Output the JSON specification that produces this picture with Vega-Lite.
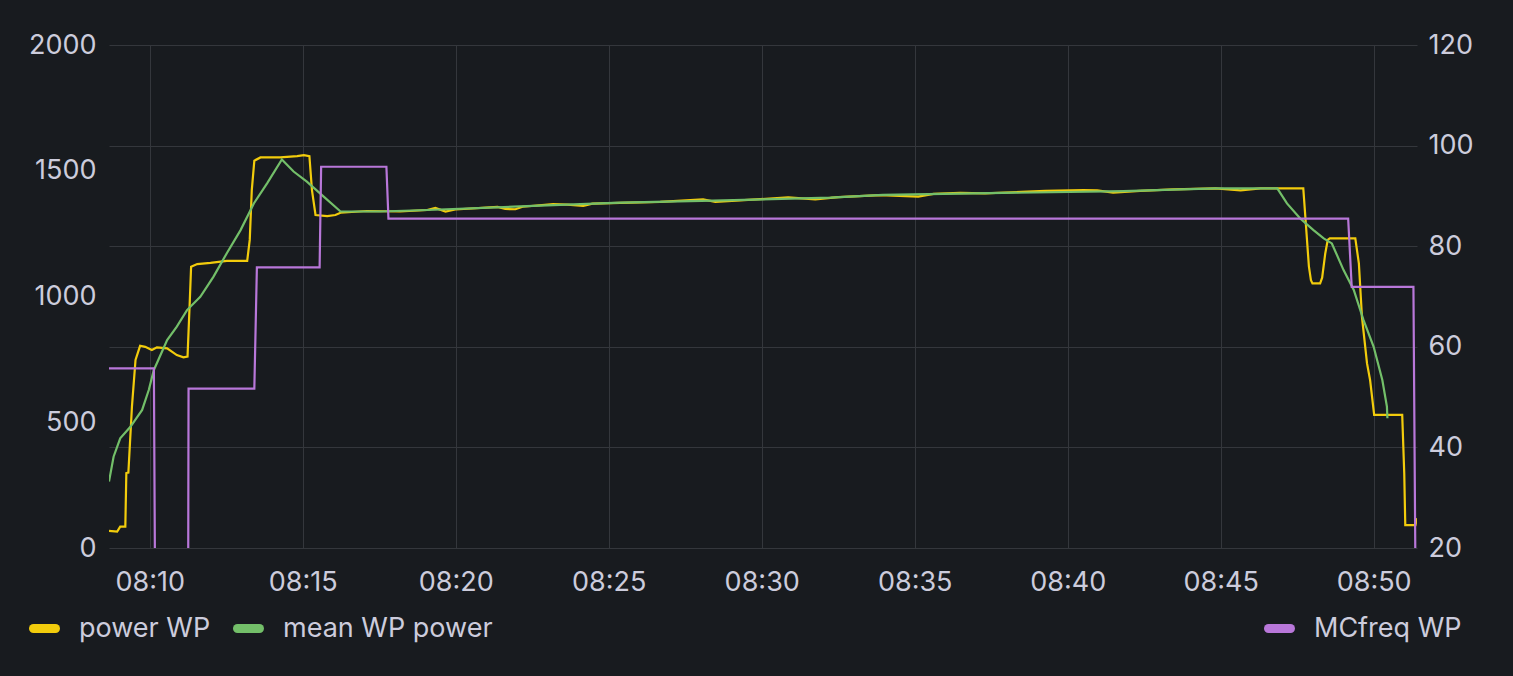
{
  "$schema": "https://vega.github.io/schema/vega-lite/v6.json",
  "autosize": {"type": "none"},
  "width": 1308,
  "height": 503,
  "padding": {"left": 109, "top": 45, "right": 96, "bottom": 128},
  "background": "#181b1f",
  "config": {
    "view": {"stroke": null},
    "font": "Inter",
    "axis": {
      "labelFont": "Inter",
      "labelFontSize": 27,
      "labelColor": "#ccccdc",
      "domain": false,
      "ticks": false,
      "tickSize": 0,
      "title": null,
      "gridColor": "#34373c",
      "gridWidth": 1
    },
    "legend": {
      "labelFont": "Inter",
      "labelFontSize": 27,
      "labelColor": "#ccccdc",
      "labelLimit": 0,
      "padding": 0,
      "title": null,
      "symbolType": "stroke",
      "symbolSize": 484,
      "symbolStrokeWidth": 9,
      "labelOffset": 19
    }
  },
  "datasets": {
    "power": [
      {"t": "2024-01-01T08:08:40Z", "v": 68},
      {"t": "2024-01-01T08:08:56Z", "v": 65},
      {"t": "2024-01-01T08:09:02Z", "v": 85},
      {"t": "2024-01-01T08:09:12Z", "v": 85},
      {"t": "2024-01-01T08:09:14Z", "v": 298},
      {"t": "2024-01-01T08:09:18Z", "v": 300},
      {"t": "2024-01-01T08:09:25Z", "v": 562},
      {"t": "2024-01-01T08:09:32Z", "v": 748},
      {"t": "2024-01-01T08:09:41Z", "v": 804},
      {"t": "2024-01-01T08:09:51Z", "v": 800},
      {"t": "2024-01-01T08:10:04Z", "v": 787},
      {"t": "2024-01-01T08:10:14Z", "v": 798},
      {"t": "2024-01-01T08:10:34Z", "v": 794},
      {"t": "2024-01-01T08:10:53Z", "v": 767},
      {"t": "2024-01-01T08:11:06Z", "v": 758},
      {"t": "2024-01-01T08:11:14Z", "v": 761},
      {"t": "2024-01-01T08:11:18Z", "v": 960},
      {"t": "2024-01-01T08:11:21Z", "v": 1118},
      {"t": "2024-01-01T08:11:33Z", "v": 1129},
      {"t": "2024-01-01T08:11:59Z", "v": 1134},
      {"t": "2024-01-01T08:12:31Z", "v": 1142},
      {"t": "2024-01-01T08:13:11Z", "v": 1142},
      {"t": "2024-01-01T08:13:16Z", "v": 1225},
      {"t": "2024-01-01T08:13:20Z", "v": 1423},
      {"t": "2024-01-01T08:13:25Z", "v": 1540},
      {"t": "2024-01-01T08:13:37Z", "v": 1553},
      {"t": "2024-01-01T08:14:16Z", "v": 1553},
      {"t": "2024-01-01T08:14:49Z", "v": 1558},
      {"t": "2024-01-01T08:15:02Z", "v": 1562},
      {"t": "2024-01-01T08:15:13Z", "v": 1558},
      {"t": "2024-01-01T08:15:18Z", "v": 1423},
      {"t": "2024-01-01T08:15:25Z", "v": 1324},
      {"t": "2024-01-01T08:15:48Z", "v": 1320},
      {"t": "2024-01-01T08:16:04Z", "v": 1324},
      {"t": "2024-01-01T08:16:14Z", "v": 1333},
      {"t": "2024-01-01T08:17:06Z", "v": 1340},
      {"t": "2024-01-01T08:18:11Z", "v": 1338},
      {"t": "2024-01-01T08:19:04Z", "v": 1344},
      {"t": "2024-01-01T08:19:20Z", "v": 1352},
      {"t": "2024-01-01T08:19:40Z", "v": 1338},
      {"t": "2024-01-01T08:19:59Z", "v": 1346},
      {"t": "2024-01-01T08:21:22Z", "v": 1356},
      {"t": "2024-01-01T08:21:37Z", "v": 1348},
      {"t": "2024-01-01T08:21:57Z", "v": 1347},
      {"t": "2024-01-01T08:22:11Z", "v": 1357},
      {"t": "2024-01-01T08:23:11Z", "v": 1367},
      {"t": "2024-01-01T08:23:39Z", "v": 1365},
      {"t": "2024-01-01T08:24:10Z", "v": 1360},
      {"t": "2024-01-01T08:24:28Z", "v": 1369},
      {"t": "2024-01-01T08:25:23Z", "v": 1372},
      {"t": "2024-01-01T08:26:41Z", "v": 1376},
      {"t": "2024-01-01T08:28:05Z", "v": 1386},
      {"t": "2024-01-01T08:28:29Z", "v": 1376},
      {"t": "2024-01-01T08:29:18Z", "v": 1382},
      {"t": "2024-01-01T08:30:52Z", "v": 1394},
      {"t": "2024-01-01T08:31:45Z", "v": 1386},
      {"t": "2024-01-01T08:32:30Z", "v": 1395},
      {"t": "2024-01-01T08:33:53Z", "v": 1403},
      {"t": "2024-01-01T08:35:07Z", "v": 1397},
      {"t": "2024-01-01T08:35:37Z", "v": 1408},
      {"t": "2024-01-01T08:36:29Z", "v": 1412},
      {"t": "2024-01-01T08:37:18Z", "v": 1410},
      {"t": "2024-01-01T08:39:16Z", "v": 1420},
      {"t": "2024-01-01T08:40:31Z", "v": 1423},
      {"t": "2024-01-01T08:40:58Z", "v": 1422},
      {"t": "2024-01-01T08:41:29Z", "v": 1413},
      {"t": "2024-01-01T08:42:22Z", "v": 1420},
      {"t": "2024-01-01T08:43:27Z", "v": 1426},
      {"t": "2024-01-01T08:44:50Z", "v": 1430},
      {"t": "2024-01-01T08:45:39Z", "v": 1422},
      {"t": "2024-01-01T08:46:18Z", "v": 1430},
      {"t": "2024-01-01T08:47:42Z", "v": 1430},
      {"t": "2024-01-01T08:47:46Z", "v": 1318},
      {"t": "2024-01-01T08:47:53Z", "v": 1120},
      {"t": "2024-01-01T08:47:57Z", "v": 1065},
      {"t": "2024-01-01T08:48:00Z", "v": 1052},
      {"t": "2024-01-01T08:48:15Z", "v": 1052},
      {"t": "2024-01-01T08:48:19Z", "v": 1075},
      {"t": "2024-01-01T08:48:25Z", "v": 1170},
      {"t": "2024-01-01T08:48:30Z", "v": 1225},
      {"t": "2024-01-01T08:48:34Z", "v": 1231},
      {"t": "2024-01-01T08:49:24Z", "v": 1231},
      {"t": "2024-01-01T08:49:31Z", "v": 1132},
      {"t": "2024-01-01T08:49:37Z", "v": 920},
      {"t": "2024-01-01T08:49:47Z", "v": 734},
      {"t": "2024-01-01T08:49:53Z", "v": 668},
      {"t": "2024-01-01T08:50:01Z", "v": 529},
      {"t": "2024-01-01T08:50:56Z", "v": 529},
      {"t": "2024-01-01T08:51:00Z", "v": 297},
      {"t": "2024-01-01T08:51:02Z", "v": 91},
      {"t": "2024-01-01T08:51:22Z", "v": 91},
      {"t": "2024-01-01T08:51:25Z", "v": 118}
    ],
    "mean": [
      {"t": "2024-01-01T08:08:40Z", "v": 264},
      {"t": "2024-01-01T08:08:49Z", "v": 363},
      {"t": "2024-01-01T08:09:02Z", "v": 436},
      {"t": "2024-01-01T08:09:22Z", "v": 482},
      {"t": "2024-01-01T08:09:45Z", "v": 549},
      {"t": "2024-01-01T08:09:58Z", "v": 628},
      {"t": "2024-01-01T08:10:08Z", "v": 708},
      {"t": "2024-01-01T08:10:34Z", "v": 827},
      {"t": "2024-01-01T08:10:53Z", "v": 880},
      {"t": "2024-01-01T08:11:13Z", "v": 946},
      {"t": "2024-01-01T08:11:39Z", "v": 999},
      {"t": "2024-01-01T08:12:05Z", "v": 1079},
      {"t": "2024-01-01T08:12:31Z", "v": 1172},
      {"t": "2024-01-01T08:12:58Z", "v": 1264},
      {"t": "2024-01-01T08:13:24Z", "v": 1370},
      {"t": "2024-01-01T08:13:50Z", "v": 1450},
      {"t": "2024-01-01T08:14:19Z", "v": 1545},
      {"t": "2024-01-01T08:14:42Z", "v": 1497},
      {"t": "2024-01-01T08:15:08Z", "v": 1457},
      {"t": "2024-01-01T08:15:41Z", "v": 1397},
      {"t": "2024-01-01T08:16:14Z", "v": 1338},
      {"t": "2024-01-01T08:17:32Z", "v": 1338},
      {"t": "2024-01-01T08:19:04Z", "v": 1344},
      {"t": "2024-01-01T08:21:53Z", "v": 1357},
      {"t": "2024-01-01T08:25:23Z", "v": 1373},
      {"t": "2024-01-01T08:28:25Z", "v": 1381},
      {"t": "2024-01-01T08:32:15Z", "v": 1393},
      {"t": "2024-01-01T08:33:58Z", "v": 1404},
      {"t": "2024-01-01T08:36:55Z", "v": 1410},
      {"t": "2024-01-01T08:41:49Z", "v": 1419},
      {"t": "2024-01-01T08:44:50Z", "v": 1430},
      {"t": "2024-01-01T08:46:51Z", "v": 1430},
      {"t": "2024-01-01T08:47:10Z", "v": 1370},
      {"t": "2024-01-01T08:47:36Z", "v": 1310},
      {"t": "2024-01-01T08:48:02Z", "v": 1264},
      {"t": "2024-01-01T08:48:22Z", "v": 1231},
      {"t": "2024-01-01T08:48:38Z", "v": 1211},
      {"t": "2024-01-01T08:49:01Z", "v": 1105},
      {"t": "2024-01-01T08:49:21Z", "v": 1026},
      {"t": "2024-01-01T08:49:40Z", "v": 907},
      {"t": "2024-01-01T08:50:00Z", "v": 800},
      {"t": "2024-01-01T08:50:17Z", "v": 668},
      {"t": "2024-01-01T08:50:26Z", "v": 562},
      {"t": "2024-01-01T08:50:27Z", "v": 516}
    ],
    "freq": [
      {"t": "2024-01-01T08:08:40Z", "v": 55.7},
      {"t": "2024-01-01T08:10:08Z", "v": 55.7},
      {"t": "2024-01-01T08:10:11Z", "v": 0},
      {"t": "2024-01-01T08:11:15Z", "v": 0},
      {"t": "2024-01-01T08:11:16Z", "v": 51.7},
      {"t": "2024-01-01T08:13:25Z", "v": 51.7},
      {"t": "2024-01-01T08:13:30Z", "v": 75.8},
      {"t": "2024-01-01T08:15:33Z", "v": 75.8},
      {"t": "2024-01-01T08:15:36Z", "v": 95.8},
      {"t": "2024-01-01T08:17:44Z", "v": 95.8},
      {"t": "2024-01-01T08:17:48Z", "v": 85.5},
      {"t": "2024-01-01T08:49:10Z", "v": 85.5},
      {"t": "2024-01-01T08:49:17Z", "v": 71.9},
      {"t": "2024-01-01T08:51:18Z", "v": 71.9},
      {"t": "2024-01-01T08:51:23Z", "v": 0}
    ]
  },
  "layer": [
    {
      "data": {"name": "power"},
      "mark": {"type": "line", "strokeWidth": 2.2, "clip": true},
      "encoding": {
        "x": {
          "field": "t",
          "type": "temporal",
          "scale": {
            "type": "utc",
            "domain": [1704096520000, 1704099085000],
            "nice": false
          },
          "axis": {
            "format": "%H:%M",
            "formatType": "utc",
            "values": [1704096600000, 1704096900000, 1704097200000, 1704097500000, 1704097800000, 1704098100000, 1704098400000, 1704098700000, 1704099000000],
            "grid": true,
            "labelPadding": 21,
            "labelFlush": false
          }
        },
        "y": {
          "field": "v",
          "type": "quantitative",
          "scale": {"domain": [0, 2000], "nice": false},
          "axis": {
            "orient": "left",
            "values": [0, 500, 1000, 1500, 2000],
            "format": "d",
            "grid": false,
            "labelPadding": 13
          }
        },
        "color": {
          "datum": "power WP",
          "scale": {"range": ["#F2CC0C"]},
          "legend": {
            "orient": "none", "legendX": -80, "legendY": 568,
            "encode": {"symbols": {"update": {"strokeCap": {"value": "round"}}}}
          }
        }
      }
    },
    {
      "data": {"name": "mean"},
      "mark": {"type": "line", "strokeWidth": 2.2, "clip": true},
      "encoding": {
        "x": {"field": "t", "type": "temporal"},
        "y": {
          "field": "v",
          "type": "quantitative",
          "scale": {"domain": [0, 2000], "nice": false},
          "axis": null
        },
        "color": {
          "datum": "mean WP power",
          "scale": {"range": ["#73BF69"]},
          "legend": {
            "orient": "none", "legendX": 124, "legendY": 568,
            "encode": {"symbols": {"update": {"strokeCap": {"value": "round"}}}}
          }
        }
      }
    },
    {
      "data": {"name": "freq"},
      "mark": {"type": "line", "strokeWidth": 2.2, "clip": true},
      "encoding": {
        "x": {"field": "t", "type": "temporal"},
        "y": {
          "field": "v",
          "type": "quantitative",
          "scale": {"domain": [20, 120], "nice": false},
          "axis": {
            "orient": "right",
            "values": [20, 40, 60, 80, 100, 120],
            "grid": true,
            "labelPadding": 11
          }
        },
        "color": {
          "datum": "MCfreq WP",
          "scale": {"range": ["#B877D9"]},
          "legend": {
            "orient": "none", "legendX": 1155, "legendY": 568,
            "encode": {"symbols": {"update": {"strokeCap": {"value": "round"}}}}
          }
        }
      }
    }
  ],
  "resolve": {"scale": {"y": "independent", "color": "independent"}}
}
